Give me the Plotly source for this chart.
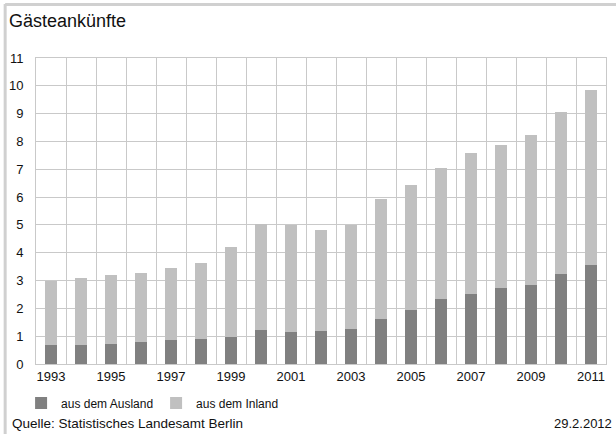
import plotly.graph_objects as go

years = list(range(1993, 2012))
ausland = [0.69, 0.69, 0.73, 0.78, 0.87, 0.91, 0.98, 1.23, 1.16, 1.19, 1.27,
           1.62, 1.95, 2.32, 2.52, 2.72, 2.84, 3.25, 3.56]
gesamt = [3.00, 3.08, 3.21, 3.26, 3.46, 3.62, 4.19, 5.05, 4.99, 4.80, 4.99,
          5.93, 6.44, 7.05, 7.58, 7.87, 8.25, 9.05, 9.84]
inland = [round(g - a, 2) for g, a in zip(gesamt, ausland)]
tick_years = list(range(1993, 2012, 2))
tick_labels = [str(y) for y in tick_years]

FONT = "Liberation Sans, Arial, sans-serif"
GRID = "#c9c9c9"

fig = go.Figure()
fig.add_trace(go.Bar(x=years, y=ausland, name="aus dem Ausland",
                     marker=dict(color="#808080", line=dict(width=0))))
fig.add_trace(go.Bar(x=years, y=inland, name="aus dem Inland",
                     marker=dict(color="#c0c0c0", line=dict(width=0))))

# plot area in pixels: x 34..607, y 58..364
L, R, T, B = 34, 607, 58, 364
W, H = R - L, B - T
def px(x):
    return (x - L) / W
def py(y):
    return (B - y) / H

fig.update_layout(
    width=616, height=434,
    barmode="stack", bargap=0.6,
    margin=dict(l=L, r=616 - R, t=T, b=434 - B, pad=0),
    paper_bgcolor="white", plot_bgcolor="white",
    font=dict(family=FONT, size=13, color="#111111"),
    showlegend=True,
    legend=dict(orientation="h", x=px(19), xanchor="left", y=py(403), yanchor="middle",
                font=dict(size=12, color="#111111"), itemwidth=30,
                entrywidth=90, entrywidthmode="pixels",
                bgcolor="rgba(0,0,0,0)", borderwidth=0, traceorder="normal"),
    xaxis=dict(range=[1992.5, 2011.5], tickmode="array", tickvals=tick_years,
               ticktext=tick_labels, showgrid=False, ticks="", zeroline=False,
               showline=True, linecolor=GRID, linewidth=1, mirror=True,
               tickfont=dict(size=13),
               minor=dict(tickmode="linear", tick0=1992.5, dtick=1, showgrid=True,
                          gridcolor=GRID, gridwidth=1.3, ticks="")),
    yaxis=dict(range=[0, 11], dtick=1, tick0=0, showgrid=True, gridcolor=GRID,
               gridwidth=1.3, ticks="", zeroline=False, showline=True,
               linecolor=GRID, linewidth=1, mirror=True,
               ticklabelstandoff=9, tickfont=dict(size=13)),
)

fig.add_annotation(text="Gästeankünfte", xref="paper", yref="paper",
                   x=px(5), y=py(21), xanchor="left", yanchor="middle",
                   showarrow=False, font=dict(size=18, color="#111111"))
fig.add_annotation(text="Quelle: Statistisches Landesamt Berlin", xref="paper", yref="paper",
                   x=px(8), y=py(423), xanchor="left", yanchor="middle",
                   showarrow=False, font=dict(size=13.5, color="#111111"))
fig.add_annotation(text="29.2.2012", xref="paper", yref="paper",
                   x=px(615), y=py(423), xanchor="right", yanchor="middle",
                   showarrow=False, font=dict(size=13, color="#111111"))

# outer frame (left and top)
fig.add_shape(type="line", xref="paper", yref="paper", x0=px(3), x1=px(3),
              y0=py(4), y1=py(440), line=dict(color="#d0d0d0", width=3))
fig.add_shape(type="line", xref="paper", yref="paper", x0=px(3), x1=px(620),
              y0=py(4.5), y1=py(4.5), line=dict(color="#d0d0d0", width=3))

fig.write_html("out.html", config={"displayModeBar": False},
               post_script="document.body.style.margin='0';document.body.style.overflow='hidden';")
